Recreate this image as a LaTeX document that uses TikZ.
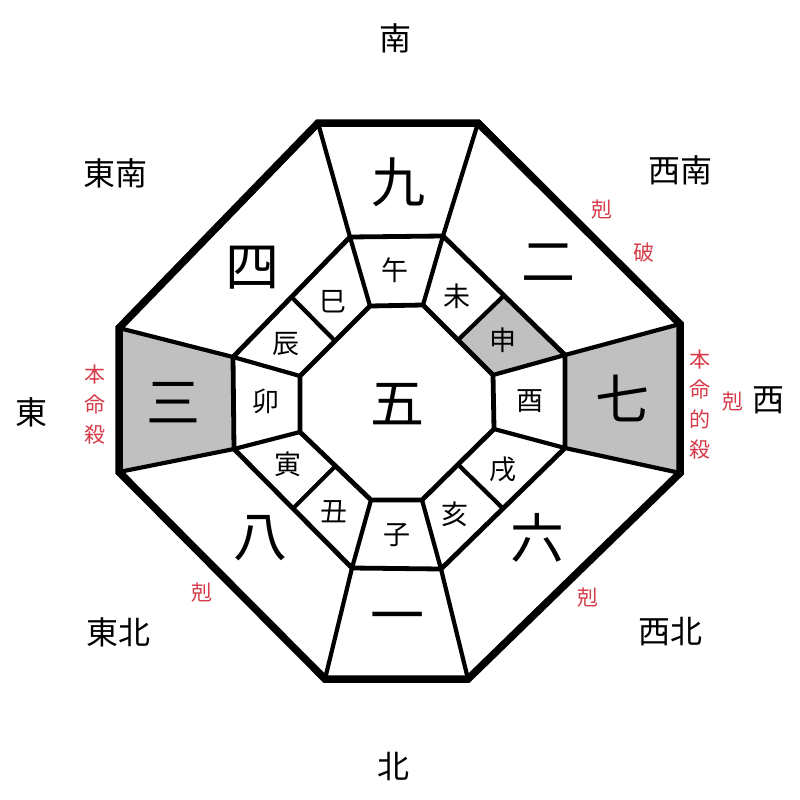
\documentclass[tikz,border=0pt]{standalone}
\usepackage{fontspec}
\usetikzlibrary{calc}
\newfontfamily\jp{Noto Sans CJK JP}
\definecolor{cellgray}{RGB}{192,192,192}
\definecolor{redlab}{RGB}{214,58,72}
\tikzset{
  big/.style={font=\jp\fontsize{54}{54}\selectfont, inner sep=0pt},
  branch/.style={font=\jp\fontsize{27}{27}\selectfont, inner sep=0pt},
  dir/.style={font=\jp\fontsize{32}{32}\selectfont, inner sep=0pt},
  redl/.style={font=\jp\fontsize{21}{30}\selectfont, text=redlab, inner sep=0pt},
  outerline/.style={line width=7.5pt, line join=miter},
  ringline/.style={line width=4.8pt, line join=miter},
  spoke/.style={line width=4.2pt},
}
\begin{document}
\begin{tikzpicture}[x=1pt,y=-1pt]
\useasboundingbox (0,0) rectangle (800,800);
% outer vertices
\coordinate (O1) at (318,123); \coordinate (O2) at (478,123);
\coordinate (O3) at (680,324); \coordinate (O4) at (680,473);
\coordinate (O5) at (468,679); \coordinate (O6) at (325,679);
\coordinate (O7) at (119,472); \coordinate (O8) at (119,328);
% middle ring
\coordinate (M1) at (350,237); \coordinate (M2) at (443,236);
\coordinate (M3) at (565,355); \coordinate (M4) at (565,448);
\coordinate (M5) at (441,569); \coordinate (M6) at (352,568);
\coordinate (M7) at (234,449); \coordinate (M8) at (233,357);
% inner octagon
\coordinate (I1) at (370,306); \coordinate (I2) at (423,305);
\coordinate (I3) at (493,375); \coordinate (I4) at (494,429);
\coordinate (I5) at (422,500); \coordinate (I6) at (371,500);
\coordinate (I7) at (300,432); \coordinate (I8) at (300,376);
% split midpoints
\coordinate (A2) at ($(M2)!0.5!(M3)$); \coordinate (B2) at ($(I2)!0.5!(I3)$);
\coordinate (A4) at ($(M4)!0.5!(M5)$); \coordinate (B4) at ($(I4)!0.5!(I5)$);
\coordinate (A6) at ($(M6)!0.5!(M7)$); \coordinate (B6) at ($(I6)!0.5!(I7)$);
\coordinate (A8) at ($(M8)!0.5!(M1)$); \coordinate (B8) at ($(I8)!0.5!(I1)$);
% shading
\fill[cellgray] (O8) -- (M8) -- (M7) -- (O7) -- cycle;
\fill[cellgray] (O3) -- (O4) -- (M4) -- (M3) -- cycle;
\fill[cellgray] (A2) -- (M3) -- (I3) -- (B2) -- cycle;
% spokes
\foreach \k in {1,...,8} {
  \draw[spoke] (O\k) -- (M\k);
  \draw[spoke] (M\k) -- (I\k);
}
\foreach \k in {2,4,6,8} {
  \draw[spoke] (A\k) -- (B\k);
}
% rings
\draw[ringline] (M1) -- (M2) -- (M3) -- (M4) -- (M5) -- (M6) -- (M7) -- (M8) -- cycle;
\draw[ringline] (I1) -- (I2) -- (I3) -- (I4) -- (I5) -- (I6) -- (I7) -- (I8) -- cycle;
\draw[outerline] (O1) -- (O2) -- (O3) -- (O4) -- (O5) -- (O6) -- (O7) -- (O8) -- cycle;
% numerals
\node[big] (n9) at (398,182) {九};
\node[big] (n2) at (548,263) {二};
\node[big] (n7) at (622,398) {七};
\node[big] (n6) at (537,538) {六};
\node[big] (n1) at (397,624) {一};
\node[big] (n8) at (260,538) {八};
\node[big] (n3) at (173,403) {三};
\node[big] (n4) at (252,268) {四};
\node[big] (n5) at (397,404) {五};
% branches
\node[branch] (b1) at (395,270) {午};
\node[branch] (b2) at (457,296) {未};
\node[branch] (b3) at (503,340) {申};
\node[branch] (b4) at (530,401) {酉};
\node[branch] (b5) at (503,469) {戌};
\node[branch] (b6) at (455,514) {亥};
\node[branch] (b7) at (397,535) {子};
\node[branch] (b8) at (334,512) {丑};
\node[branch] (b9) at (288,464) {寅};
\node[branch] (b10) at (266,401) {卯};
\node[branch] (b11) at (286,344) {辰};
\node[branch] (b12) at (333,302) {巳};
% directions
\node[dir] (dS) at (395,38) {南};
\node[dir] (dN) at (393,766) {北};
\node[dir] (dE) at (32,412) {東};
\node[dir] (dW) at (768,400) {西};
\node[dir] (dSE) at (115,173) {東南};
\node[dir] (dSW) at (680,170) {西南};
\node[dir] (dNE) at (118,632) {東北};
\node[dir] (dNW) at (670,632) {西北};
% red labels
\node[redl] (r1) at (602,210) {剋};
\node[redl] (r2) at (644,253) {破};
\node[redl, align=center] (r3) at (700,405) {本\\命\\的\\殺};
\node[redl] (r4) at (733,402) {剋};
\node[redl, align=center] (r5) at (95,405) {本\\命\\殺};
\node[redl] (r6) at (202,593) {剋};
\node[redl] (r7) at (588,598) {剋};
\end{tikzpicture}
\end{document}
